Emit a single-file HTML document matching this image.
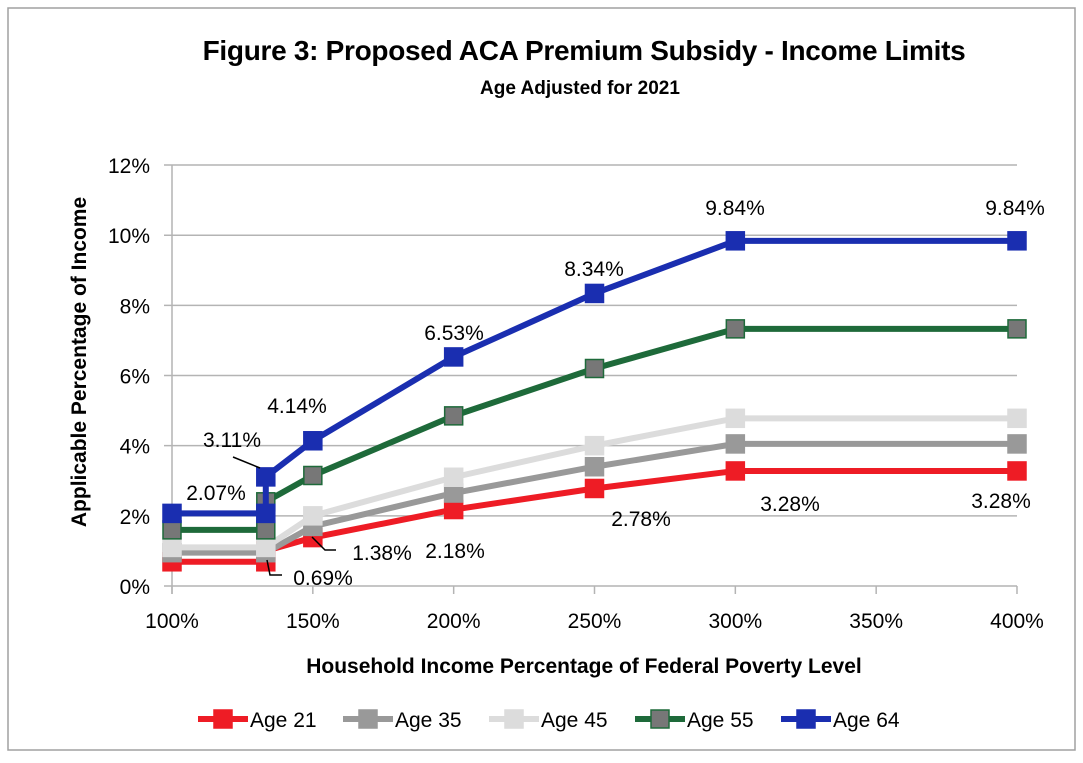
<!DOCTYPE html>
<html><head><meta charset="utf-8"><style>
body{margin:0;background:#fff}
svg{display:block;font-family:"Liberation Sans",sans-serif}
</style></head><body>
<svg id="s" width="1083" height="763" viewBox="0 0 1083 763">
<rect x="8" y="8" width="1067" height="742" fill="#fff" stroke="#a0a0a0" stroke-width="1.5"/>
<text x="584" y="60" text-anchor="middle" font-size="28" font-weight="bold" fill="#000" letter-spacing="-0.3">Figure 3: Proposed ACA Premium Subsidy - Income Limits</text>
<text x="580" y="94" text-anchor="middle" font-size="19" font-weight="bold" fill="#000">Age Adjusted for 2021</text>
<text transform="translate(86,362) rotate(-90)" text-anchor="middle" font-size="21" font-weight="bold">Applicable Percentage of Income</text>
<text x="584" y="673" text-anchor="middle" font-size="21" font-weight="bold">Household Income  Percentage of Federal Poverty Level</text>
<g id="g"></g>
</svg>
<script>
const g=document.getElementById('g');let h='';
const X=p=>172+(p-100)/300*845, Y=v=>586-v*35.08;
for(let i=0;i<=6;i++){const y=Y(i*2);h+=`<line x1="164" x2="1017" y1="${y}" y2="${y}" stroke="#b4b4b4" stroke-width="1.5"/><text x="150" y="${y+8}" text-anchor="end" font-size="21">${i*2}%</text>`;}
h+=`<line x1="172" x2="172" y1="165" y2="594" stroke="#b4b4b4" stroke-width="1.5"/>`;
[100,150,200,250,300,350,400].forEach(p=>{h+=`<line x1="${X(p)}" x2="${X(p)}" y1="586" y2="594" stroke="#b4b4b4" stroke-width="1.5"/><text x="${X(p)}" y="628" text-anchor="middle" font-size="21">${p}%</text>`;});
const S=[
['#ee1c25','#ee1c25',[[100,.69],[133.3,.69],[133.3,1.0],[150,1.38],[200,2.18],[250,2.78],[300,3.28],[400,3.28]]],
['#999','#999',[[100,.95],[133.3,.95],[150,1.7],[200,2.65],[250,3.4],[300,4.05],[400,4.05]]],
['#dcdcdc','#dcdcdc',[[100,1.1],[133.3,1.1],[150,2.0],[200,3.1],[250,4.0],[300,4.78],[400,4.78]]],
['#1e6a3a','#777',[[100,1.6],[133.3,1.6],[133.3,2.4],[150,3.15],[200,4.85],[250,6.2],[300,7.33],[400,7.33]]],
['#1a2eb0','#1a2eb0',[[100,2.07],[133.3,2.07],[133.3,3.11],[150,4.14],[200,6.53],[250,8.34],[300,9.84],[400,9.84]]]];
S.forEach(([c,m,d])=>{h+=`<polyline fill="none" stroke="${c}" stroke-width="6" points="${d.map(q=>X(q[0])+','+Y(q[1])).join(' ')}"/>`;
d.forEach(q=>{h+=`<rect x="${X(q[0])-9}" y="${Y(q[1])-9}" width="18" height="18" fill="${m}" stroke="${c}" stroke-width="1.5"/>`;});});
const L=[[216,500,'2.07%'],[232,447,'3.11%'],[297,413,'4.14%'],[454,340,'6.53%'],[594,276,'8.34%'],[735,215,'9.84%'],[1015,215,'9.84%'],[323,585,'0.69%'],[382,560,'1.38%'],[455,558,'2.18%'],[641,526,'2.78%'],[790,511,'3.28%'],[1001,508,'3.28%']];
L.forEach(([x,y,t])=>{h+=`<text x="${x}" y="${y}" text-anchor="middle" font-size="21">${t}</text>`;});
h+=`<polyline fill="none" stroke="#000" stroke-width="1.5" points="267,560 270,575 282,575"/><polyline fill="none" stroke="#000" stroke-width="1.5" points="312,537 325,550 336,550"/><line x1="233" y1="457" x2="260" y2="468" stroke="#000" stroke-width="1.5"/>`;
const lg=[['#ee1c25','#ee1c25','Age 21',198],['#999','#999','Age 35',343],['#dcdcdc','#dcdcdc','Age 45',489],['#1e6a3a','#777','Age 55',635],['#1a2eb0','#1a2eb0','Age 64',781]];
lg.forEach(([c,m,t,x])=>{h+=`<line x1="${x}" x2="${x+50}" y1="719" y2="719" stroke="${c}" stroke-width="6"/><rect x="${x+16}" y="710" width="18" height="18" fill="${m}" stroke="${c}" stroke-width="1.5"/><text x="${x+52}" y="727" font-size="21">${t}</text>`;});
g.innerHTML=h;
</script>
</body></html>
